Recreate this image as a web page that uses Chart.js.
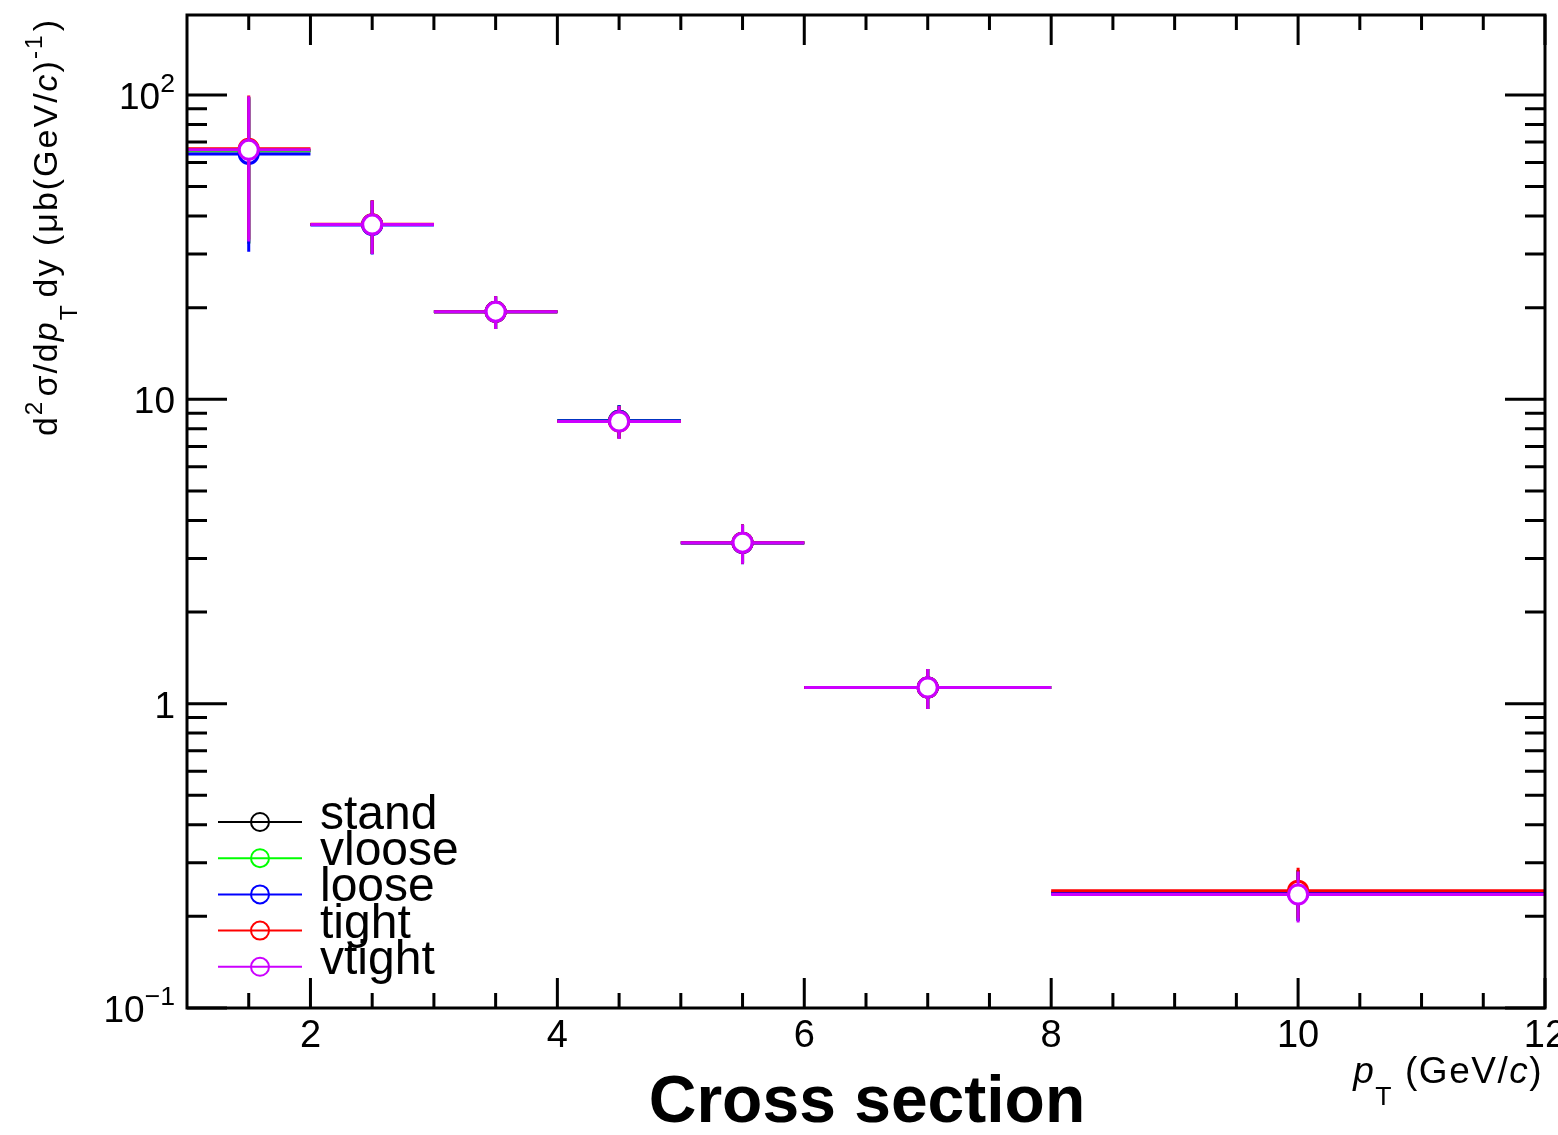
<!DOCTYPE html>
<html>
<head>
<meta charset="utf-8">
<script src="https://cdn.jsdelivr.net/npm/chart.js@4.4.1/dist/chart.umd.min.js"></script>
<style>
html, body { margin: 0; padding: 0; background: #fff; }
</style>
</head>
<body>
<canvas id="xsecChart" width="1558" height="1135"></canvas>
<script>
// pT bins (GeV/c)
const binLow = [1, 2, 3, 4, 5, 6, 8];
const binHigh = [2, 3, 4, 5, 6, 8, 12];
const ptCenter = [1.5, 2.5, 3.5, 4.5, 5.5, 7, 10];

// cross section values per cut set
const standVals  = [65.5, 37.5, 19.4, 8.5, 3.38, 1.13, 0.239];
const vlooseVals = [65.5, 37.5, 19.4, 8.5, 3.38, 1.13, 0.239];
const looseVals  = [64.0, 37.4, 19.4, 8.5, 3.37, 1.13, 0.238];
const tightVals  = [66.5, 37.6, 19.4, 8.45, 3.38, 1.13, 0.243];
const vtightVals = [66.0, 37.5, 19.4, 8.45, 3.38, 1.13, 0.236];

// statistical errors (symmetric)
const standErr  = [33, 7.5, 2.4, 1.05, 0.5, 0.17, 0.045];
const vlooseErr = [33, 7.5, 2.4, 1.05, 0.5, 0.17, 0.045];
const looseErr  = [33.5, 7.5, 2.4, 1.05, 0.5, 0.17, 0.045];
const tightErr  = [33, 7.5, 2.4, 1.05, 0.5, 0.17, 0.046];
const vtightErr = [33, 7.5, 2.4, 1.05, 0.5, 0.17, 0.045];

const seriesNames  = ['stand', 'vloose', 'loose', 'tight', 'vtight'];
const seriesColors = ['#000000', '#00ff00', '#0000ff', '#ff0000', '#cc00ff'];
const seriesVals = [standVals, vlooseVals, looseVals, tightVals, vtightVals];
const seriesErr  = [standErr, vlooseErr, looseErr, tightErr, vtightErr];

// axis ticks
const xMajorTicks = [2, 4, 6, 8, 10, 12];
const xMinorStep = 0.5;
const yDecades = [-1, 0, 1, 2];
const yTickLabels = [
  { value: 0.1, base: '10', exp: '\u22121' },
  { value: 1, base: '1', exp: '' },
  { value: 10, base: '10', exp: '' },
  { value: 100, base: '10', exp: '2' }
];

const FONT = '"Liberation Sans", Arial, Helvetica, sans-serif';

function drawRich(ctx, parts, size, x, y, align, spacing) {
  // parts: {t, it, sub, sup, gap}
  ctx.letterSpacing = (spacing || 0) + 'px';
  let widths = parts.map(p => {
    let s = (p.sub || p.sup) ? size * 0.72 : size;
    ctx.font = (p.it ? 'italic ' : '') + s + 'px ' + FONT;
    return ctx.measureText(p.t).width + (p.gap || 0);
  });
  let total = widths.reduce((a, b) => a + b, 0);
  let cx = align === 'right' ? x - total : x;
  parts.forEach((p, i) => {
    let s = (p.sub || p.sup) ? size * 0.72 : size;
    ctx.font = (p.it ? 'italic ' : '') + s + 'px ' + FONT;
    let dy = p.sub ? size * 0.6 : (p.sup ? -size * 0.45 : 0);
    ctx.fillText(p.t, cx, y + dy);
    cx += widths[i];
  });
  ctx.letterSpacing = '0px';
}

const errorBars = {
  id: 'errorBars',
  beforeDatasetDraw(chart, args) {
    const ctx = chart.ctx;
    const xs = chart.scales.x, ys = chart.scales.y;
    const i = args.index;
    const vals = seriesVals[i], err = seriesErr[i];
    ctx.save();
    ctx.strokeStyle = seriesColors[i];
    ctx.lineWidth = 3;
    ctx.beginPath();
    for (let k = 0; k < vals.length; k++) {
      const yp = ys.getPixelForValue(vals[k]);
      const xp = xs.getPixelForValue(ptCenter[k]);
      ctx.moveTo(xs.getPixelForValue(binLow[k]), yp);
      ctx.lineTo(xs.getPixelForValue(binHigh[k]), yp);
      ctx.moveTo(xp, ys.getPixelForValue(vals[k] + err[k]));
      ctx.lineTo(xp, ys.getPixelForValue(Math.max(vals[k] - err[k], 0.1)));
    }
    ctx.stroke();
    ctx.restore();
  }
};

const frameAndText = {
  id: 'frameAndText',
  afterDraw(chart) {
    const ctx = chart.ctx;
    const xs = chart.scales.x, ys = chart.scales.y;
    const a = chart.chartArea;
    ctx.save();
    ctx.strokeStyle = '#000';
    ctx.fillStyle = '#000';
    ctx.lineWidth = 3;
    ctx.lineCap = 'butt';
    ctx.strokeRect(a.left, a.top, a.right - a.left, a.bottom - a.top);

    // x ticks (bottom and top)
    ctx.beginPath();
    for (let v = xs.min + xMinorStep; v < xs.max + 1e-9; v += xMinorStep) {
      const major = xMajorTicks.some(t => Math.abs(t - v) < 1e-6);
      const len = major ? 30 : 15;
      const px = xs.getPixelForValue(v);
      ctx.moveTo(px, a.bottom); ctx.lineTo(px, a.bottom - len);
      ctx.moveTo(px, a.top); ctx.lineTo(px, a.top + len);
    }
    // y ticks (left and right)
    yDecades.forEach(d => {
      for (let m = 1; m <= 9; m++) {
        const v = m * Math.pow(10, d);
        if (v < ys.min - 1e-9 || v > ys.max) continue;
        const len = m === 1 ? 40 : 20;
        const py = ys.getPixelForValue(v);
        ctx.moveTo(a.left, py); ctx.lineTo(a.left + len, py);
        ctx.moveTo(a.right, py); ctx.lineTo(a.right - len, py);
      }
    });
    ctx.stroke();

    // x tick labels
    ctx.textBaseline = 'alphabetic';
    ctx.textAlign = 'center';
    ctx.font = '38px ' + FONT;
    xMajorTicks.forEach(t => {
      ctx.fillText(String(t), xs.getPixelForValue(t), 1047);
    });

    // y tick labels
    ctx.textAlign = 'left';
    yTickLabels.forEach(l => {
      const py = ys.getPixelForValue(l.value) + 14;
      const parts = [{ t: l.base }];
      if (l.exp) parts.push({ t: l.exp, sup: true });
      drawRich(ctx, parts, 37, 175, py, 'right');
    });

    // x axis title
    drawRich(ctx, [
      { t: 'p', it: true }, { t: 'T', sub: true, gap: 12 },
      { t: '(GeV/' }, { t: 'c', it: true }, { t: ')' }
    ], 37, 1543, 1083, 'right', 1.5);

    // y axis title (rotated)
    ctx.save();
    ctx.translate(57, 18);
    ctx.rotate(-Math.PI / 2);
    drawRich(ctx, [
      { t: 'd' }, { t: '2', sup: true, gap: 3 }, { t: '\u03c3/d' }, { t: 'p', it: true },
      { t: 'T', sub: true, gap: 6 }, { t: 'dy (\u03bcb(GeV/' }, { t: 'c', it: true },
      { t: ')' }, { t: '-1', sup: true, gap: 2 }, { t: ')' }
    ], 34, 0, 0, 'right', 2);
    ctx.restore();

    // main title
    ctx.textAlign = 'center';
    ctx.font = 'bold 66px ' + FONT;
    ctx.fillText('Cross section', 867, 1122);

    // legend
    ctx.textAlign = 'left';
    seriesNames.forEach((name, i) => {
      const cy = 822 + i * 36.2;
      ctx.strokeStyle = seriesColors[i];
      ctx.lineWidth = 2;
      ctx.beginPath();
      ctx.moveTo(218, cy); ctx.lineTo(302, cy);
      ctx.stroke();
      ctx.beginPath();
      ctx.arc(260, cy, 9, 0, Math.PI * 2);
      ctx.stroke();
      ctx.fillStyle = '#000';
      ctx.font = '48px ' + FONT;
      ctx.fillText(name, 320, cy + 7);
    });
    ctx.restore();
  }
};

const datasets = seriesNames.map((name, i) => ({
  label: name,
  data: ptCenter.map((x, k) => ({ x: x, y: seriesVals[i][k] })),
  order: seriesNames.length - 1 - i,
  showLine: false,
  pointRadius: 9.5,
  pointHoverRadius: 9.5,
  pointBorderWidth: 3,
  pointBackgroundColor: '#ffffff',
  pointBorderColor: seriesColors[i],
  borderColor: seriesColors[i]
}));

const xsecChart = new Chart(document.getElementById('xsecChart').getContext('2d'), {
  type: 'scatter',
  data: { datasets: datasets },
  options: {
    responsive: false,
    animation: false,
    layout: { padding: { left: 187, top: 15, right: 13, bottom: 127 } },
    scales: {
      x: { type: 'linear', min: 1, max: 12, display: false },
      y: { type: 'logarithmic', min: 0.1, max: 183, display: false }
    },
    plugins: {
      legend: { display: false },
      tooltip: { enabled: false }
    }
  },
  plugins: [errorBars, frameAndText]
});
</script>
</body>
</html>
